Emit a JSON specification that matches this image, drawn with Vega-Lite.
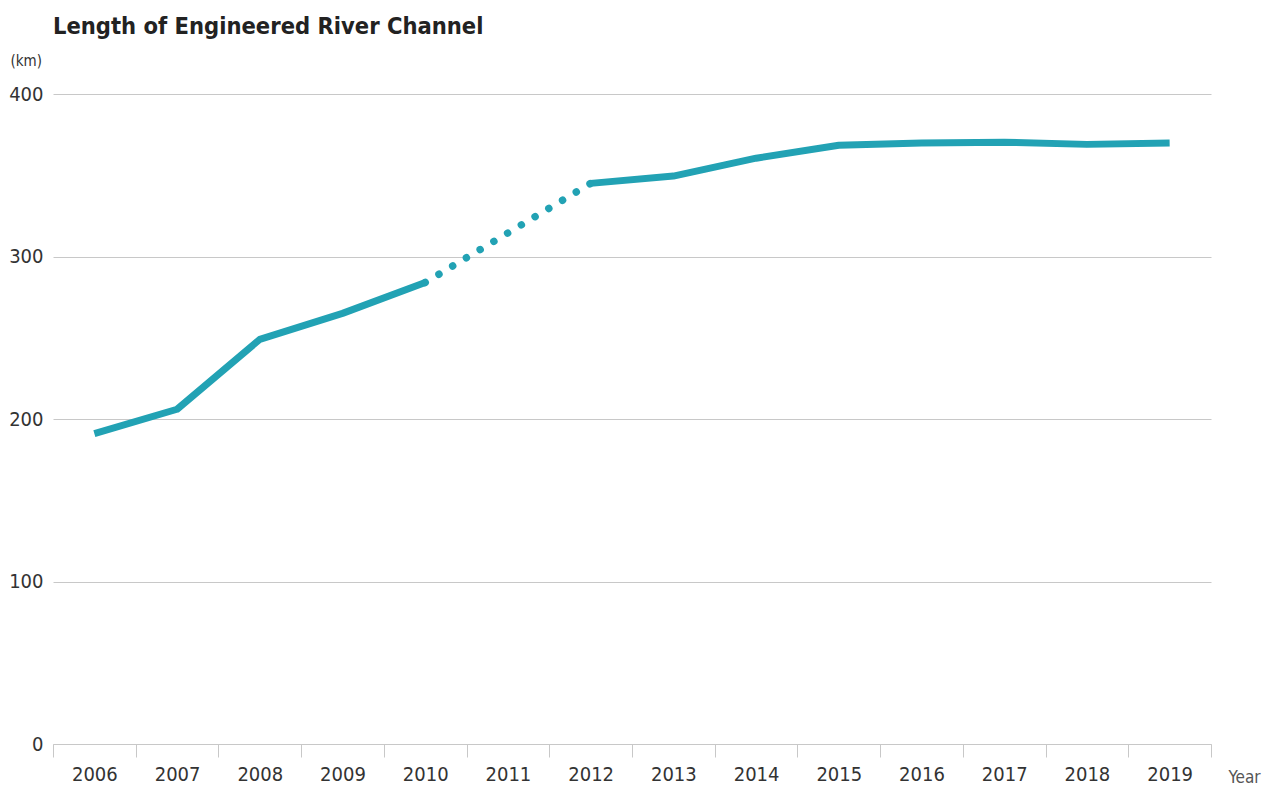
{
  "$schema": "https://vega.github.io/schema/vega-lite/v6.json",
  "autosize": "none",
  "width": 1158,
  "height": 650,
  "padding": {"left": 53, "top": 94, "right": 60, "bottom": 44},
  "background": "white",
  "title": {
    "text": "Length of Engineered River Channel",
    "anchor": "start",
    "frame": "group",
    "baseline": "alphabetic",
    "offset": -4,
    "font": "DejaVu Sans Condensed, sans-serif",
    "fontSize": 23.5,
    "fontWeight": "bold",
    "color": "#222222"
  },
  "config": {
    "view": {"stroke": null},
    "font": "DejaVu Sans Condensed, sans-serif"
  },
  "data": {
    "values": [
      {"year": 2006, "value": 191, "seg": "a"},
      {"year": 2007, "value": 206, "seg": "a"},
      {"year": 2008, "value": 249, "seg": "a"},
      {"year": 2009, "value": 265, "seg": "a"},
      {"year": 2010, "value": 284, "seg": "a"},
      {"year": 2010, "value": 284, "seg": "gap"},
      {"year": 2012, "value": 345, "seg": "gap"},
      {"year": 2012, "value": 345, "seg": "b"},
      {"year": 2013, "value": 349.5, "seg": "b"},
      {"year": 2014, "value": 360.5, "seg": "b"},
      {"year": 2015, "value": 368.5, "seg": "b"},
      {"year": 2016, "value": 369.8, "seg": "b"},
      {"year": 2017, "value": 370.3, "seg": "b"},
      {"year": 2018, "value": 369, "seg": "b"},
      {"year": 2019, "value": 369.8, "seg": "b"}
    ]
  },
  "layer": [
    {
      "transform": [{"filter": "datum.seg !== 'gap'"}],
      "mark": {"type": "line", "color": "#22a2b4", "strokeWidth": 7, "strokeCap": "butt", "strokeJoin": "round"},
      "encoding": {
        "x": {
          "field": "year",
          "type": "quantitative",
          "scale": {"domain": [2005.5, 2019.5], "nice": false, "zero": false},
          "axis": {
            "values": [2006, 2007, 2008, 2009, 2010, 2011, 2012, 2013, 2014, 2015, 2016, 2017, 2018, 2019],
            "format": "d",
            "orient": "bottom",
            "domain": false,
            "ticks": false,
            "grid": false,
            "labelPadding": 20,
            "labelFontSize": 20,
            "labelColor": "#333333",
            "labelFlush": false,
            "labelBaseline": "top",
            "title": "Year",
            "titleFontSize": 17,
            "titleFontWeight": "normal",
            "titleColor": "#555555",
            "titleX": 1175,
            "titleY": 38,
            "titleAlign": "left",
            "titleBaseline": "alphabetic"
          }
        },
        "y": {
          "field": "value",
          "type": "quantitative",
          "scale": {"domain": [0, 400], "nice": false},
          "axis": {
            "values": [0, 100, 200, 300, 400],
            "grid": true,
            "gridColor": "#c8c8c8",
            "gridWidth": 1,
            "domain": false,
            "ticks": false,
            "labelPadding": 10,
            "labelFontSize": 20,
            "labelColor": "#333333",
            "title": "(km)",
            "titleAngle": 0,
            "titleX": -43,
            "titleY": -29,
            "titleAlign": "left",
            "titleBaseline": "alphabetic",
            "titleFontSize": 15,
            "titleFontWeight": "normal",
            "titleColor": "#333333"
          }
        },
        "detail": {"field": "seg", "type": "nominal"}
      }
    },
    {
      "transform": [{"filter": "datum.seg === 'gap'"}],
      "mark": {"type": "line", "color": "#22a2b4", "strokeWidth": 7.5, "strokeCap": "round", "strokeDash": [0.01, 16]},
      "encoding": {
        "x": {
          "field": "year",
          "type": "quantitative",
          "axis": {
            "values": [2005.5, 2006.5, 2007.5, 2008.5, 2009.5, 2010.5, 2011.5, 2012.5, 2013.5, 2014.5, 2015.5, 2016.5, 2017.5, 2018.5, 2019.5],
            "orient": "bottom",
            "labels": false,
            "grid": false,
            "domain": true,
            "domainColor": "#c8c8c8",
            "domainWidth": 1,
            "ticks": true,
            "tickColor": "#c8c8c8",
            "tickSize": 13,
            "tickWidth": 1,
            "title": null
          }
        },
        "y": {"field": "value", "type": "quantitative"}
      }
    }
  ],
  "resolve": {"axis": {"x": "independent"}}
}
